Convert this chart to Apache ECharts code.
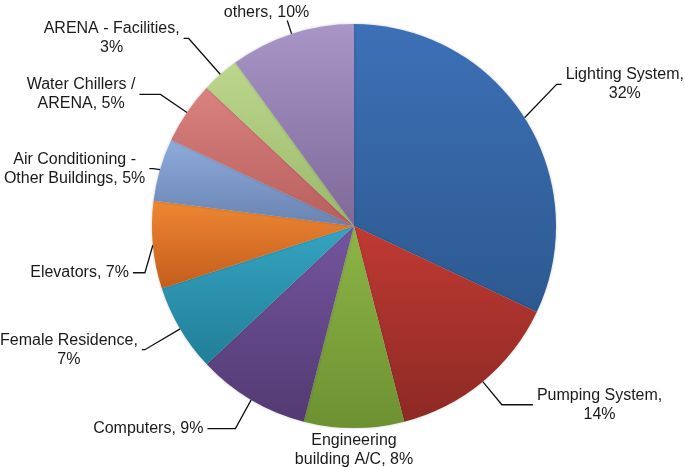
<!DOCTYPE html>
<html><head><meta charset="utf-8">
<script src="https://cdn.jsdelivr.net/npm/echarts@6/dist/echarts.min.js"></script>
<style>html,body{margin:0;padding:0;background:#fff}#c{width:685px;height:467px}</style>
</head><body><div id="c"></div>
<script>
// ---- data ----
const categories = ['Lighting System', 'Pumping System', 'Engineering building A/C', 'Computers',
  'Female Residence', 'Elevators', 'Air Conditioning - Other Buildings', 'Water Chillers / ARENA',
  'ARENA - Facilities', 'others'];
const values = [32, 14, 8, 9, 7, 7, 5, 5, 3, 10];
const labelFormats = ['Lighting System,\n{v}%', 'Pumping System,\n{v}%', 'Engineering\nbuilding A/C, {v}%',
  'Computers, {v}%', 'Female Residence,\n{v}%', 'Elevators, {v}%', 'Air Conditioning -\nOther Buildings, {v}%',
  'Water Chillers /\nARENA, {v}%', 'ARENA - Facilities,\n{v}%', 'others, {v}%'];

// ---- styles ----
const colorTop = ['#3D70B6', '#C03A33', '#8DB546', '#74559F', '#35A4C2', '#EF8733', '#8EABDB', '#DA827F', '#BCD78C', '#A996C6'];
const colorBot = ['#2C5990', '#8D2924', '#6D9132', '#523A72', '#217E97', '#C35D1C', '#6984B3', '#B65F5C', '#9AB86A', '#7E6999'];
const lineLen1 = [38, 30, 22, 31, 41, 8, 7, 32, 48, 14];
const lineLen2 = [5, 31, 0, 28, 3, 12, 4, 21, 5, 0];
const nudgeX = [0, 0, 0, 0, 0, 0, 0, 0, 0, 26];
const nudgeY = [-13, 0, 0, 2, 0, 27, 1, 0, 0, -8];

const chart = echarts.init(document.getElementById('c'), null, {renderer: 'canvas'});
const data = categories.map((name, i) => ({
  name: name,
  value: values[i],
  itemStyle: {
    color: new echarts.graphic.LinearGradient(0, 0, 0, 1, [
      {offset: 0, color: colorTop[i]}, {offset: 1, color: colorBot[i]}
    ])
  },
  labelLine: {show: i !== 2, length: lineLen1[i], length2: lineLen2[i]}
}));

chart.setOption({
  animation: false,
  backgroundColor: '#fff',
  series: [{
    type: 'pie',
    center: [354, 226],
    radius: 202,
    startAngle: 90,
    clockwise: true,
    avoidLabelOverlap: false,
    data: data,
    itemStyle: {borderWidth: 0, shadowBlur: 3, shadowColor: 'rgba(0,0,0,0.2)'},
    label: {
      show: true,
      position: 'outside',
      alignTo: 'none',
      distanceToLabelLine: 4,
      formatter: function (p) {
        const txt = labelFormats[p.dataIndex].replace('{v}', values[p.dataIndex]);
        return txt.split('\n').map(s => '{c|' + s + '}').join('\n');
      },
      rich: {
        c: {align: 'center', fontFamily: 'Liberation Sans, Arial, sans-serif', fontSize: 16, lineHeight: 19, color: '#1a1a1a'}
      }
    },
    labelLine: {lineStyle: {color: '#111', width: 1.3}, smooth: false},
    labelLayout: function (params) {
      const i = params.dataIndex;
      if (i === 2) {
        const want = params.rect.x + params.rect.width / 2;
        const cur = params.labelRect.x + params.labelRect.width / 2;
        return {dx: want - cur};
      }
      if (nudgeX[i] || nudgeY[i]) {
        const out = {dx: nudgeX[i], dy: nudgeY[i]};
        const pts = params.labelLinePoints;
        if (pts && !nudgeX[i]) {
          out.labelLinePoints = pts.map((p, k) => k === 0 ? [p[0], p[1]] : [p[0], p[1] + nudgeY[i]]);
        }
        return out;
      }
      return {};
    }
  }]
});
</script></body></html>
